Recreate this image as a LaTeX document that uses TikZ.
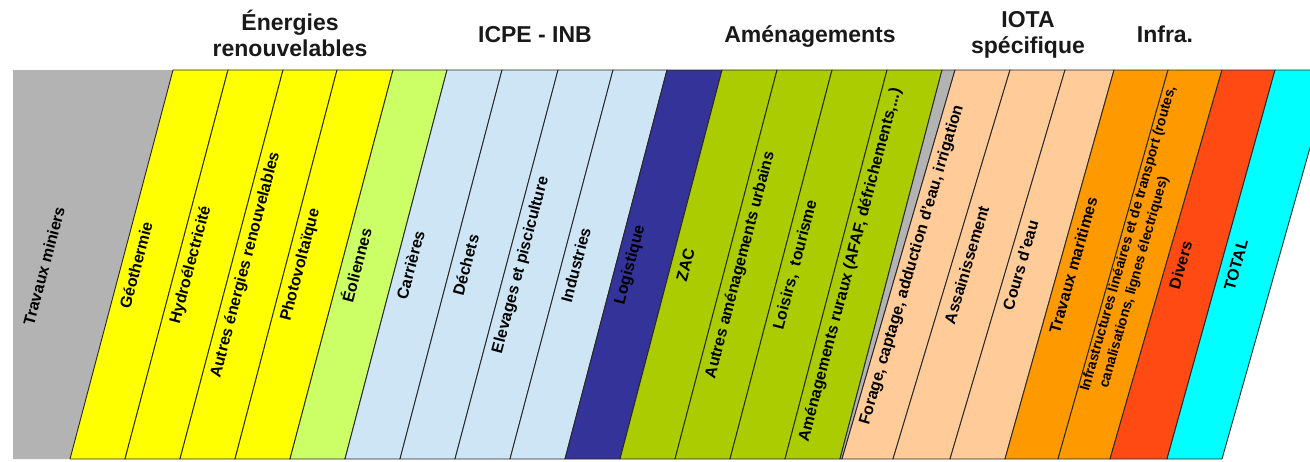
\documentclass[tikz,border=0pt]{standalone}
\usepackage{fontspec}
\setmainfont{Liberation Sans}
\definecolor{cgray}{HTML}{B3B3B3}
\definecolor{cyellow}{HTML}{FFFF00}
\definecolor{clgreen}{HTML}{CCFF66}
\definecolor{clblue}{HTML}{CDE5F5}
\definecolor{cdblue}{HTML}{333399}
\definecolor{cgreen}{HTML}{AACC00}
\definecolor{cpeach}{HTML}{FFCC99}
\definecolor{corange}{HTML}{FF9900}
\definecolor{cred}{HTML}{FF4A14}
\definecolor{ccyan}{HTML}{00FFFF}
\tikzset{
  stripbox/.style={draw=black!85, line width=0.9pt, line join=round},
  striplabel/.style={font=\bfseries\fontsize{16}{18}\selectfont, inner sep=0pt, align=left, text=black},
  smalllabel/.style={striplabel, font=\bfseries\fontsize{14}{17.5}\selectfont},
  header/.style={font=\bfseries\fontsize{23}{26}\selectfont, align=center, inner sep=0pt, text=black!90},
}
\newcommand{\mkband}[5]{%
  \path[stripbox, fill=#5] (#1,70) -- (#2,70) -- (#3,459) -- (#4,459) -- cycle;
}
\newcommand{\mkstrip}[7]{%
  \mkband{#2}{#3}{#4}{#5}{#6}
  \pgfmathsetmacro{\cx}{(#2+#3+#4+#5)/4-13}%
  \pgfmathsetmacro{\ang}{atan2(389,(#2+#3-#4-#5)/2)}%
  \node[striplabel, rotate=\ang] (#1) at (\cx,265) {#7};
}
\begin{document}
\begin{tikzpicture}[x=1pt,y=-1pt]
\useasboundingbox (0,0) rectangle (1310,461);
\clip (0,0) rectangle (1310,461);
% left grey block
\path[fill=cgray] (13,70) -- (173,70) -- (70,459) -- (13,459) -- cycle;
\node[striplabel, rotate=75] (tm) at (44,266) {Travaux miniers};
% strips
\mkstrip{s1}{173}{228}{125}{70}{cyellow}{Géothermie}
\mkstrip{s2}{228}{283}{180}{125}{cyellow}{Hydroélectricité}
\mkstrip{s3}{283}{337}{235}{180}{cyellow}{Autres énergies renouvelables}
\mkstrip{s4}{337}{393}{290}{235}{cyellow}{Photovoltaïque}
\mkstrip{s5}{393}{447}{345}{290}{clgreen}{Éoliennes}
\mkstrip{s6}{447}{502}{400}{345}{clblue}{Carrières}
\mkstrip{s7}{502}{558}{455}{400}{clblue}{Déchets}
\mkstrip{s8}{558}{613}{510}{455}{clblue}{Elevages et pisciculture}
\mkstrip{s9}{613}{667}{565}{510}{clblue}{Industries}
\mkstrip{s10}{667}{722}{620}{565}{cdblue}{Logistique}
\mkstrip{s11}{722}{777}{675}{620}{cgreen}{ZAC}
\mkstrip{s12}{777}{832}{730}{675}{cgreen}{Autres aménagements urbains}
\mkstrip{s13}{832}{887}{785}{730}{cgreen}{Loisirs,\ \ tourisme}
\mkstrip{s14}{887}{942}{840}{785}{cgreen}{Aménagements ruraux (AFAF, défrichements,...)}
\path[stripbox, fill=cgray] (942,70) -- (955,70) -- (842,459) -- (840,459) -- cycle;
\mkstrip{s16}{955}{1010}{893}{842}{cpeach}{Forage, captage, adduction d'eau, irrigation}
\mkstrip{s17}{1010}{1065}{950}{893}{cpeach}{Assainissement}
\mkstrip{s18}{1065}{1114}{1005}{950}{cpeach}{Cours d'eau}
\mkstrip{s19}{1114}{1168}{1058}{1005}{corange}{Travaux maritimes}
\mkband{1168}{1222}{1110}{1058}{corange}
\node[smalllabel, rotate=74.1] (s20) at (1137,241) {Infrastructures linéaires et de transport (routes,\\\hspace*{0.6em}canalisations, lignes électriques)};
\mkstrip{s21}{1222}{1275}{1167}{1110}{cred}{Divers}
\mkstrip{s22}{1275}{1332}{1222}{1167}{ccyan}{TOTAL}
% headers
\node[header] (h1) at (290,33) {Énergies\\renouvelables};
\node[header, anchor=base] (h2) at (535,42) {ICPE - INB};
\node[header, anchor=base] (h3) at (810,42) {Aménagements};
\node[header] (h4) at (1028,35) {IOTA\\spécifique};
\node[header, anchor=base] (h5) at (1165,42) {Infra.};
\end{tikzpicture}
\end{document}
